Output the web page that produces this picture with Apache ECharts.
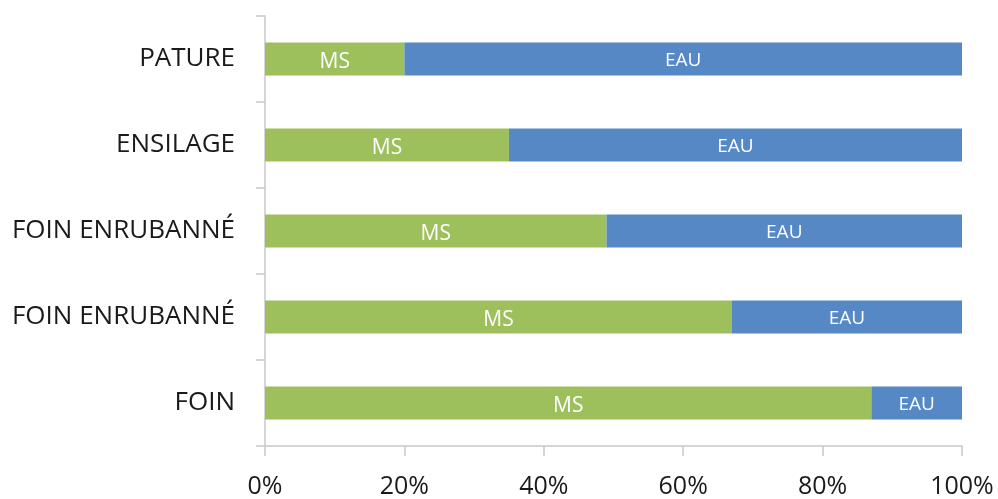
<!DOCTYPE html>
<html>
<head>
<meta charset="utf-8">
<script src="https://cdn.jsdelivr.net/npm/echarts@6/dist/echarts.min.js"></script>
<style>
  html, body { margin: 0; padding: 0; background: #fff; }
  #chart { width: 998px; height: 499px; }
</style>
</head>
<body>
<div id="chart"></div>
<script>
// Forage types, bottom to top
const categories = ['FOIN', 'FOIN ENRUBANNÉ', 'FOIN ENRUBANNÉ', 'ENSILAGE', 'PATURE'];
// Dry matter share (%)
const msValues = [87, 67, 49, 35, 20];
// Water share (%)
const eauValues = [13, 33, 51, 65, 80];
const xTicks = [0, 20, 40, 60, 80, 100];

const FONT = 'Open Sans';
const chart = echarts.init(document.getElementById('chart'), null, { renderer: 'canvas' });

chart.setOption({
  animation: false,
  backgroundColor: '#ffffff',
  grid: { left: 265, right: 36, top: 16, bottom: 51, containLabel: false },
  xAxis: {
    type: 'value',
    min: xTicks[0],
    max: xTicks[xTicks.length - 1],
    interval: xTicks[1] - xTicks[0],
    axisLine: { show: true, lineStyle: { color: '#c8c8c8', width: 1.5 } },
    axisTick: { show: true, length: 10, lineStyle: { color: '#c8c8c8', width: 1.5 } },
    splitLine: { show: false },
    axisLabel: {
      margin: 28,
      color: '#1a1a1a',
      fontFamily: FONT,
      fontSize: 25,
      formatter: v => v + '%'
    }
  },
  yAxis: {
    type: 'category',
    data: categories,
    axisLine: { show: true, lineStyle: { color: '#c8c8c8', width: 1.5 } },
    axisTick: { show: true, length: 9, lineStyle: { color: '#c8c8c8', width: 1.5 } },
    axisLabel: {
      margin: 30,
      color: '#1a1a1a',
      fontFamily: FONT,
      fontSize: 26
    }
  },
  series: [
    {
      name: 'MS',
      type: 'bar',
      stack: 'total',
      data: msValues,
      barWidth: 33,
      itemStyle: { color: '#9dc05c' },
      label: {
        show: true,
        position: 'inside',
        offset: [0, 3],
        formatter: 'MS',
        color: '#ffffff',
        fontFamily: FONT,
        fontSize: 21
      }
    },
    {
      name: 'EAU',
      type: 'bar',
      stack: 'total',
      data: eauValues,
      barWidth: 33,
      itemStyle: { color: '#5588c4' },
      label: {
        show: true,
        position: 'inside',
        offset: [0, 2],
        formatter: 'EAU',
        color: '#ffffff',
        fontFamily: FONT,
        fontSize: 19
      }
    }
  ]
});
</script>
</body>
</html>
